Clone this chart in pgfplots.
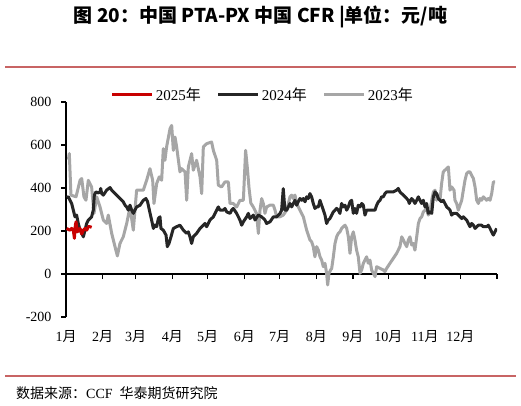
\documentclass[border=0pt]{standalone}
\usepackage{fontspec}
\setmainfont{Liberation Serif}
\newfontfamily\cjk{Noto Sans CJK SC}
\usepackage{pgfplots}
\pgfplotsset{compat=1.18}
\definecolor{c25}{RGB}{200,0,0}
\definecolor{c24}{RGB}{38,38,38}
\definecolor{c23}{RGB}{166,166,166}
\definecolor{rule}{RGB}{200,100,100}
\begin{document}
\begin{tikzpicture}[x=1pt,y=1pt]
\useasboundingbox (0,0) rectangle (521,405);
\node at (260.5,388) {\fontsize{19}{22}\selectfont\cjk\bfseries 图 20：中国 PTA-PX 中国 CFR |单位：元/吨};
\draw[rule, line width=1.3pt] (5,338) -- (516,338);
\draw[rule, line width=1.3pt] (5,29) -- (516,29);
\node[anchor=west, inner sep=0pt] at (16,12) {\fontsize{14}{16}\selectfont{\cjk 数据来源：}CCF\ \ {\cjk 华泰期货研究院}};
\begin{axis}[
  at={(66pt,88pt)}, anchor=south west, scale only axis,
  width=431pt, height=215pt,
  xmin=0, xmax=365, ymin=-200, ymax=800,
  axis x line=middle, axis y line=left,
  hide obscured x ticks=false, hide obscured y ticks=false,
  axis line style={-, black, line width=1.5pt},
  tick align=outside, major tick length=5pt,
  tick style={black, line width=1.3pt},
  xtick={0,31,59,90,120,151,181,212,243,273,304,334,365},
  xticklabels={1{\cjk 月},2{\cjk 月},3{\cjk 月},4{\cjk 月},5{\cjk 月},6{\cjk 月},7{\cjk 月},8{\cjk 月},9{\cjk 月},10{\cjk 月},11{\cjk 月},12{\cjk 月},},
  ytick={-200,0,200,400,600,800},
  /pgf/number format/assume math mode=true,
  yticklabel={\pgfmathprintnumber[assume math mode=true]{\tick}},
  tick label style={font=\fontsize{14}{16}\selectfont},
  xticklabel style={yshift=-48pt},
  yticklabel style={xshift=-6pt},
  legend style={draw=none, fill=none, legend columns=3,
    at={(axis description cs:0.457,1.033)}, anchor=center,
    font=\fontsize{15}{18}\selectfont,
    /tikz/every even column/.append style={column sep=14pt}},
  legend image code/.code={\draw[#1] (0pt,0pt) -- (40pt,0pt);},
]
\addlegendimage{c25, line width=3pt}
\addlegendentry{2025{\cjk 年}}
\addlegendimage{c24, line width=3pt}
\addlegendentry{2024{\cjk 年}}
\addlegendimage{c23, line width=3pt}
\addlegendentry{2023{\cjk 年}}
\addplot[forget plot, c23, line width=3pt, line join=round] coordinates {
(2.0,532)(2.8,560)(4.2,367)(8.5,359)(11.9,436)(13.3,444)(15.2,359)(16.9,343)(18.9,436)(21.7,405)(23.7,282)(26,359)(28.8,312)(31.6,251)(34.4,235)(35.8,274)(38.7,189)(41.5,127)(43.5,84)(45.7,142)(48.5,173)(51.4,235)(54.2,312)(57,204)(59.8,390)(65.5,390)(68.3,436)(71.1,490)(73.4,436)(74.5,328)(76.8,421)(79,452)(81,436)(82.4,583)(83.8,529)(85.2,591)(88.1,676)(89.5,691)(90.9,575)(92.3,637)(93.7,591)(96.5,475)(97.9,490)(100.8,475)(102.2,343)(103.6,498)(106.4,560)(107.8,483)(110.6,529)(113.5,452)(114.9,374)(116.3,591)(119.1,606)(123.3,614)(124.8,575)(127.6,529)(129,413)(131.8,405)(134.6,428)(137.5,428)(138.9,328)(141.7,328)(144.5,312)(147.3,343)(150.2,343)(152.1,575)(153.5,498)(155,400)(156.5,330)(158.6,312)(161.4,281)(162.9,189)(164.3,297)(165.7,351)(167.1,328)(168.5,282)(169.9,312)(172.7,320)(175.6,320)(177,297)(178.4,266)(181.2,266)(184,274)(186.9,297)(188.3,328)(189.7,359)(191.1,367)(192.5,351)(193.9,367)(195.3,328)(198.1,297)(201,266)(203.8,204)(206.6,158)(208,150)(209.4,127)(210.8,80)(212.3,127)(213.7,111)(215.1,80)(216.5,65)(217.9,34)(219.3,50)(220.7,3)(221.6,-51)(222.7,3)(224.1,19)(225,26)(226.4,80)(227.8,142)(229.2,173)(230.6,189)(232,196)(233.4,212)(234.8,220)(236.3,227)(237.7,212)(239.1,173)(240.5,96)(241.9,173)(243.3,196)(244.7,158)(246.1,111)(247.5,80)(249,3)(250.4,19)(251.8,50)(253.2,65)(254.6,80)(256,50)(257.4,65)(258.8,19)(260.3,3)(261.7,-12)(263.1,34)(265.9,26)(268.7,19)(270.1,11)(271.5,26)(274.4,50)(277.2,73)(280,96)(282.8,127)(284.3,173)(285.7,158)(287.1,142)(288.5,127)(289.9,158)(291.3,173)(292.7,135)(294.1,142)(295.5,111)(297,173)(298.4,235)(299.8,258)(301.2,266)(302.6,289)(304,297)(305.4,305)(306.8,274)(308.2,289)(309.7,343)(311.1,382)(312.5,390)(313.9,343)(315.3,367)(316.7,343)(318.1,421)(319.5,475)(320.9,483)(322.4,490)(323.8,498)(325.2,390)(326.6,405)(328.6,390)(329.4,343)(330.8,328)(332.2,297)(335.1,343)(336.5,390)(337.9,436)(339.3,467)(340.7,475)(342.1,475)(343.5,459)(345,444)(346.4,405)(347.8,343)(349.2,328)(350.6,351)(352,343)(353.4,359)(354.8,351)(356.2,343)(357.6,351)(359.1,343)(360.5,374)(361.9,428)(363.3,428)
};
\addplot[forget plot, c24, line width=3pt, line join=round] coordinates {
(0.6,356)(2,359)(3.4,343)(4.8,328)(6.2,297)(7.6,266)(9,274)(10.4,235)(11.9,204)(13.3,189)(14.7,173)(16.1,204)(17.5,235)(18.9,251)(20.3,258)(21.7,266)(23.1,297)(24,367)(25.4,382)(27.4,377)(28.8,382)(29.4,398)(30.2,374)(31.6,367)(34.4,390)(37.3,402)(38.7,390)(40.1,382)(42.9,367)(45.7,351)(48.5,336)(50,320)(51.4,312)(52.8,297)(54.2,320)(55.6,297)(57,282)(58.4,297)(59.8,312)(62.7,320)(65.5,343)(67.7,351)(69.1,336)(70.6,297)(72.5,251)(74,212)(75.4,228)(76.8,220)(78.2,258)(79.6,266)(80.4,212)(82.4,204)(84.7,181)(85.8,127)(87.2,142)(88.9,173)(90.9,212)(93.7,220)(96.5,227)(99.4,204)(102.2,189)(103.6,196)(105,173)(106.4,142)(107.8,173)(110.6,189)(113.5,212)(116.3,227)(117.7,235)(119.1,220)(121.9,251)(124.8,266)(127.6,297)(129,312)(130.4,297)(133.2,297)(134.6,305)(136.1,289)(138.9,282)(140.3,297)(141.7,305)(144.5,282)(147.3,251)(148.8,227)(150.2,243)(153,266)(154.4,282)(155.8,258)(158.6,274)(160.1,251)(162.9,274)(165.7,266)(168.5,251)(169.9,235)(172.8,243)(175.6,266)(178.4,266)(181.2,281)(182.6,297)(184,397)(185.4,297)(186.9,297)(188.3,312)(189.7,328)(191.1,312)(192.5,328)(193.9,343)(195.3,320)(196.7,336)(198.1,351)(199.6,343)(201,351)(202.4,336)(203.8,359)(205.2,351)(206.6,374)(208,359)(209.4,328)(210.8,305)(212.3,312)(213.7,312)(215.1,343)(216.5,320)(217.9,297)(219.3,274)(220.7,235)(222.1,251)(223.5,258)(225,274)(226.4,289)(227.8,297)(229.2,305)(230.6,297)(232,282)(233.4,328)(234.8,312)(236.3,320)(237.7,297)(239.1,312)(240.5,336)(241.9,343)(243.3,282)(244.7,305)(246.1,282)(247.5,320)(249,312)(250.4,328)(251.8,320)(253.2,274)(254.6,297)(257.4,297)(261.7,297)(263.1,320)(264.5,336)(265.9,343)(267.3,359)(268.7,359)(270.1,374)(271.5,382)(274.4,382)(277.2,382)(280,390)(281.4,398)(282.8,382)(284.3,374)(285.7,367)(287.1,359)(288.5,351)(289.9,343)(290.7,328)(291.3,336)(292.7,351)(294.1,343)(295.5,328)(297,343)(298.4,359)(299.8,343)(301.2,328)(302.6,343)(304,312)(305.4,328)(306.8,282)(308.2,289)(309.7,282)(311.1,359)(312.5,382)(313.9,374)(315.3,351)(316.7,343)(318.1,336)(319.5,343)(320.9,328)(322.4,312)(323.8,305)(325.2,297)(326.6,274)(328,282)(330.8,282)(332.2,274)(335.1,258)(336.5,266)(337.9,258)(339.3,251)(340.7,235)(342.1,220)(343.5,235)(345,227)(346.4,212)(347.8,220)(349.2,227)(352,227)(353.4,220)(356.2,220)(357.6,227)(359.1,212)(360.5,196)(361.9,181)(363.3,196)(364.7,212)
};
\addplot[forget plot, c25, line width=3pt, line join=round] coordinates {
(0.6,212)(2,207)(3.4,204)(4.8,212)(6.2,204)(7.1,166)(7.9,227)(8.5,243)(9.6,196)(10.7,204)(11.9,212)(13.3,186)(14.7,204)(16.1,212)(17.5,204)(18.9,220)(20.3,220)(21.7,217)
};
\end{axis}
\end{tikzpicture}
\end{document}
